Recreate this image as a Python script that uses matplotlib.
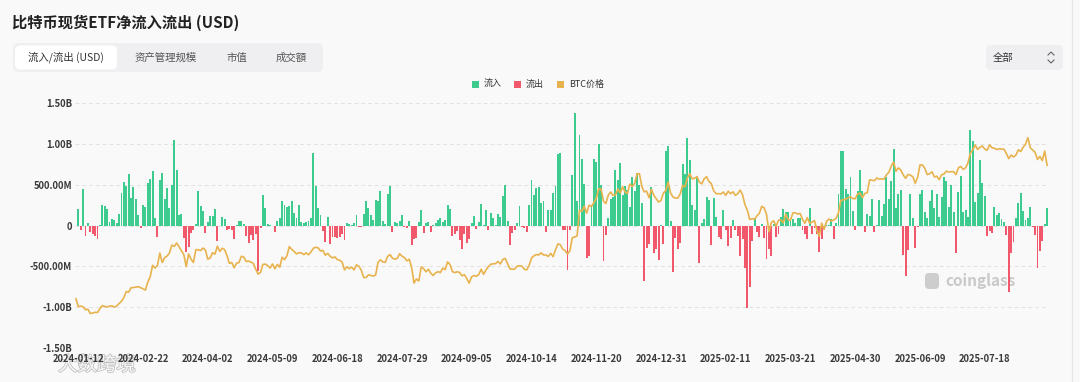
import matplotlib
matplotlib.use("Agg")
import matplotlib.pyplot as plt
import matplotlib.patheffects as pe
from matplotlib.patches import FancyBboxPatch, Rectangle

plt.rcParams["font.family"] = ["Noto Sans CJK SC", "DejaVu Sans"]

bg_color = "#F9F9F9"
green = "#3DCB8F"
red = "#F2586B"
orange = "#E8B34E"
text_dark = "#333333"

# daily net flow, million USD (one value per trading day from 2024-01-11)
flows = [
    0, 200, -55, 450, -130, 30, -80, -100, -125, -160,
    10, 245, 240, 200, 40, 75, 65, 35, 135, 400,
    530, 480, 630, 335, 475, 320, 125, -35, 245, 230,
    520, 565, 665, 90, -140, 560, 645, 320, 460, 220,
    500, 1045, 684, 133, 140, -150, -325, -260, -95, -55,
    15, 418, 243, 179, -86, 40, 113, 113, 200, -190,
    -10, 110, 80, -55, -40, -50, -170, 5, 50, 50,
    20, -130, -210, -120, -180, -100, -560, -30, 378, 217,
    20, 10, -10, -80, 50, 90, 303, 257, 222, 241,
    305, 150, 90, 252, 45, 30, 40, 50, 90, 887,
    488, 217, 131, -65, -200, 100, -226, -145, -146, -152,
    -140, -106, -174, 31, 21, 11, 30, 129, -13, -20,
    143, 295, 216, 130, 73, 310, 301, 422, 53, 19,
    384, 486, -78, 44, 31, 52, 124, -18, -30, 50,
    -237, -168, -148, 45, 195, -89, 27, 39, -81, 11,
    33, 62, 88, 39, 65, 252, 202, -127, -105, -71,
    -175, -288, -100, -211, -169, 28, 117, -43, 39, 263,
    12, 187, -52, 158, 92, 4, 136, 106, 365, 494,
    61, -243, -92, -55, 25, 236, -18, -30, -81, 253,
    556, 372, 458, 470, 273, 294, -79, 192, 188, 402,
    479, 870, 893, -50, -55, -541, -50, 621, 1376, 294,
    1114, 817, 510, -400, -370, 255, 816, 773, 1000, 490,
    -438, -122, 90, 320, 353, 676, 556, 766, 376, 479,
    439, 223, 597, 428, 637, 494, 276, -680, -278, -226,
    475, -338, -288, -426, 5, -230, 908, 978, 52, -568,
    -149, -284, -209, 755, 626, 1072, 802, 248, 188, 588,
    -458, 30, 80, 350, 318, -235, 340, 110, -140, -171,
    186, -56, -251, -156, 70, -60, -130, -370, -160, -516,
    -1014, -755, -190, 94, -74, -143, 22, -150, -409, -290,
    -371, 13, -135, -100, 110, 200, 165, 160, 70, 84,
    27, 89, 90, -60, -100, -160, 220, -99, -30, -109,
    -326, -160, -45, 1, 2, 76, -171, 30, 381, 912,
    917, 442, 380, 591, 173, -56, 422, 675, 425, -85,
    142, 117, 321, -80, 10, 310, 115, 260, 600, 329,
    550, 934, 211, 385, 432, -358, -616, -300, 387, 90,
    -278, -20, 386, 431, 165, 90, 300, 430, 216, 389,
    110, 350, 588, 548, 226, 501, 160, -342, 407, 601,
    160, 190, 100, 1175, 1029, 290, 403, 799, 522, 363,
    -131, -68, -86, 227, 131, 157, 80, 47, -114, -812,
    -333, -196, 91, 277, 404, 178, 66, 87, 230, -14,
    -122, -523, -311, -194, 23, 219,
]

# BTC close, thousand USD, same trading days
btc_price = [
    46.6, 42.8, 43.1, 42.7, 41.3, 41.6, 39.5, 39.8, 40.1, 40.0,
    41.8, 43.3, 42.9, 42.6, 43.1, 43.2, 42.6, 43.1, 44.3, 45.3,
    47.1, 50.0, 49.7, 51.8, 51.9, 52.1, 52.3, 51.8, 51.3, 50.7,
    54.5, 57.1, 62.5, 61.2, 62.4, 68.3, 63.8, 66.1, 66.9, 68.3,
    72.1, 71.5, 73.1, 71.4, 69.4, 67.6, 61.9, 67.9, 65.5, 63.8,
    69.9, 69.9, 69.5, 70.7, 69.7, 65.4, 66.0, 68.5, 67.8, 71.6,
    69.1, 70.6, 70.0, 67.2, 63.4, 63.8, 61.3, 63.5, 63.8, 66.8,
    66.4, 64.3, 64.5, 64.0, 63.4, 60.6, 58.3, 59.1, 62.9, 63.1,
    62.3, 61.2, 63.1, 60.8, 62.9, 61.6, 66.3, 65.2, 67.0, 71.4,
    70.1, 69.1, 67.9, 68.5, 68.4, 67.6, 68.4, 67.5, 68.8, 70.6,
    71.1, 70.8, 69.3, 69.6, 67.3, 68.2, 66.8, 66.0, 66.5, 65.2,
    64.9, 64.1, 60.3, 61.8, 60.9, 61.6, 60.3, 62.7, 62.0, 60.2,
    56.7, 56.7, 57.9, 57.7, 57.3, 57.9, 64.0, 65.1, 64.1, 63.9,
    66.7, 67.6, 65.9, 65.4, 65.8, 68.0, 66.8, 66.2, 64.6, 65.4,
    61.5, 54.0, 56.0, 55.0, 61.7, 60.9, 59.4, 60.6, 58.7, 57.6,
    58.9, 59.5, 59.0, 61.2, 60.4, 64.1, 62.9, 59.5, 59.0, 59.4,
    59.1, 57.5, 58.0, 56.2, 54.0, 57.0, 57.6, 57.3, 58.1, 60.6,
    58.2, 60.3, 61.8, 63.0, 63.2, 63.3, 64.3, 63.1, 65.2, 65.8,
    63.3, 60.8, 60.6, 60.7, 62.1, 62.2, 62.1, 60.6, 60.3, 62.4,
    66.0, 67.0, 67.6, 67.4, 68.4, 67.4, 67.4, 66.7, 68.2, 66.6,
    69.9, 72.7, 72.3, 70.2, 69.5, 67.8, 69.4, 75.6, 76.0, 76.5,
    88.7, 88.3, 90.6, 87.3, 91.1, 90.5, 92.3, 94.3, 98.9, 98.9,
    93.1, 91.9, 95.9, 97.4, 95.8, 96.0, 98.8, 97.0, 99.9, 97.4,
    96.7, 101.2, 100.0, 101.4, 106.1, 106.1, 100.0, 97.5, 97.8, 94.7,
    98.7, 95.8, 94.2, 92.6, 93.4, 96.9, 98.1, 102.1, 96.9, 95.0,
    94.5, 94.5, 96.5, 100.5, 99.9, 104.1, 106.1, 103.7, 103.9, 104.8,
    102.1, 101.3, 103.7, 104.7, 102.4, 101.4, 97.9, 96.6, 96.6, 96.5,
    97.4, 95.8, 97.8, 96.6, 97.5, 95.8, 96.6, 98.3, 96.1, 91.4,
    88.7, 84.3, 84.7, 84.4, 86.1, 87.2, 90.6, 89.9, 86.7, 78.5,
    82.9, 83.7, 81.1, 84.0, 84.1, 82.7, 86.9, 84.2, 84.0, 87.5,
    87.5, 86.9, 87.2, 84.4, 82.5, 85.2, 82.5, 83.1, 83.8, 79.2,
    76.3, 82.6, 79.6, 83.4, 84.5, 83.6, 84.0, 84.9, 87.5, 93.4,
    93.7, 93.9, 94.7, 95.0, 94.3, 94.2, 96.5, 96.9, 94.7, 96.8,
    97.0, 103.2, 103.0, 102.8, 104.1, 103.5, 103.7, 103.5, 105.6, 106.8,
    109.7, 111.7, 107.3, 108.9, 107.8, 105.6, 103.9, 105.8, 105.4, 104.7,
    101.6, 104.4, 110.3, 110.3, 108.7, 105.7, 106.1, 107.0, 104.6, 104.9,
    103.3, 105.6, 106.0, 107.3, 106.9, 107.1, 107.1, 105.7, 108.9, 109.6,
    108.2, 108.9, 111.3, 115.9, 117.5, 119.8, 117.7, 118.7, 119.3, 117.9,
    117.3, 119.9, 118.5, 118.3, 117.6, 118.0, 117.8, 117.8, 115.8, 113.3,
    115.0, 114.1, 115.0, 117.5, 116.7, 118.7, 120.2, 123.3, 118.4, 117.4,
    116.3, 112.9, 114.3, 112.4, 116.9, 110.1,
]

date_labels = [
    "2024-01-12", "2024-02-22", "2024-04-02", "2024-05-09", "2024-06-18",
    "2024-07-29", "2024-09-05", "2024-10-14", "2024-11-20", "2024-12-31",
    "2025-02-11", "2025-03-21", "2025-04-30", "2025-06-09", "2025-07-18",
]
y_ticks = [1500, 1000, 500, 0, -500, -1000, -1500]
y_tick_labels = ["1.50B", "1.00B", "500.00M", "0", "-500.00M", "-1.00B", "-1.50B"]
tabs = ["流入/流出 (USD)", "资产管理规模", "市值", "成交額"]
legend_names = ["流入", "流出", "BTC价格"]

W, H = 1080, 382
fig = plt.figure(figsize=(W / 100, H / 100), dpi=100, facecolor=bg_color)

# overlay in pixel units for the page furniture
ui = fig.add_axes([0, 0, 1, 1], zorder=0)
ui.set_xlim(0, W)
ui.set_ylim(H, 0)
ui.axis("off")

ui.text(12, 23, "比特币现货ETF净流入流出 (USD)", fontsize=11, fontweight="bold",
        color="#222222", va="center", ha="left")

ui.add_patch(FancyBboxPatch((13, 43), 310, 29, boxstyle="round,pad=0,rounding_size=6",
                            fc="#EFEFF1", ec="none"))
ui.add_patch(FancyBboxPatch((15, 45.5), 102, 24, boxstyle="round,pad=0,rounding_size=5",
                            fc="white", ec="none"))
for name, cx in zip(tabs, [66, 166, 237, 291]):
    ui.text(cx, 57.5, name, fontsize=7.5, color=text_dark if cx == 66 else "#555555",
            ha="center", va="center")

# range dropdown
ui.add_patch(FancyBboxPatch((986, 45), 77, 25, boxstyle="round,pad=0,rounding_size=5",
                            fc="#EFEFF1", ec="none"))
ui.text(993, 57.5, "全部", fontsize=7.5, color=text_dark, va="center", ha="left")
ui.plot([1048, 1051, 1054], [55, 52, 55], color="#666666", lw=0.8)
ui.plot([1048, 1051, 1054], [60, 63, 60], color="#666666", lw=0.8)

# legend
for (sx, tx), name, c in zip([(472, 484), (514, 526), (557, 569)], legend_names,
                             [green, red, orange]):
    ui.add_patch(Rectangle((sx, 81), 7, 7, fc=c, ec="none"))
    ui.text(tx, 84.5, name, fontsize=6.5, color=text_dark, va="center", ha="left")

# watermarks
ui.text(945, 281, "coinglass", fontsize=11, fontweight="bold", color="#C9C9C9",
        va="center", ha="left")
ui.add_patch(FancyBboxPatch((925, 273), 14, 16, boxstyle="round,pad=0,rounding_size=4",
                            fc="#CDCDCD", ec="none"))
ui.text(97, 365, "大数跨境", fontsize=14, color="white", va="center", ha="center",
        alpha=0.9, path_effects=[pe.withStroke(linewidth=1.2, foreground="#BBBBBB")],
        zorder=5)

# card edge on the right
ui.plot([1072, 1072], [0, H], color="#E6E6E6", lw=0.8)

ax = fig.add_axes([74.7 / W, 1 - 348 / H, 973.6 / W, 245 / H], zorder=1)
ax.patch.set_alpha(0)
xs = list(range(len(flows)))
bar_colors = [green if v >= 0 else red for v in flows]
ax.bar(xs, flows, width=0.8, color=bar_colors, linewidth=0)
ax.set_xlim(-0.5, len(flows) - 0.5)
ax.set_ylim(-1500, 1500)
ax.set_yticks(y_ticks)
ax.set_yticklabels(y_tick_labels)
ax.set_xticks([1 + 27 * i for i in range(len(date_labels))])
ax.set_xticklabels(date_labels)
ax.grid(axis="y", linestyle=(0, (4, 3)), color="#E2E2E2", linewidth=0.7)
ax.set_axisbelow(True)
for s in ax.spines.values():
    s.set_visible(False)
ax.tick_params(length=0, labelsize=6.8, colors="#3A3A3A")
ax.tick_params(axis="y", pad=2)
ax.tick_params(axis="x", pad=4)
for lbl in ax.get_xticklabels() + ax.get_yticklabels():
    lbl.set_fontweight("bold")

ax2 = ax.twinx()
ax2.set_zorder(2)
ax2.plot(xs, btc_price, color=orange, linewidth=1.2)
ax2.set_ylim(23.1, 139.8)
ax2.axis("off")

fig.savefig("out.png", dpi=100, facecolor=bg_color)
